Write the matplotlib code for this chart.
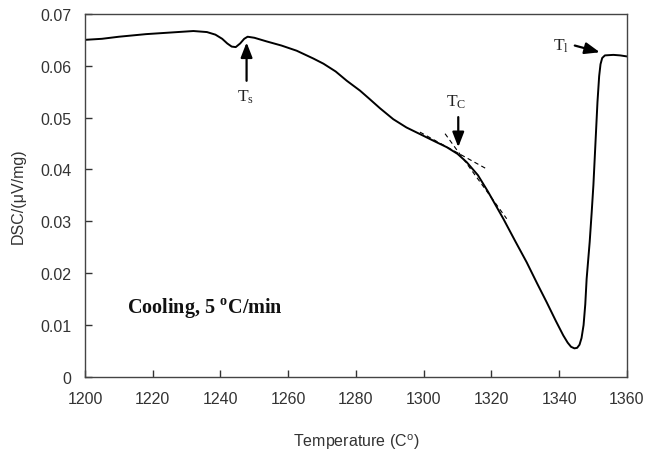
import matplotlib
matplotlib.use("Agg")
import matplotlib.pyplot as plt

plt.rcParams['font.family'] = ['Liberation Sans', 'DejaVu Sans']
plt.rcParams['mathtext.fontset'] = 'stix'

# DSC cooling curve
temp = [1200, 1205, 1210, 1218, 1225, 1232, 1236, 1238.5, 1240.5, 1242, 1243.3,
        1244.5, 1245.8, 1247, 1248, 1250, 1253.6, 1258, 1262.5, 1267.4, 1270.4,
        1274, 1277.3, 1281.2, 1284, 1287.1, 1291, 1294.9, 1299.9, 1303, 1306.8,
        1310, 1312.7, 1316, 1319, 1323.5, 1327, 1330.4, 1333.5, 1336.3, 1339,
        1341.2, 1342.5, 1343.5, 1344.5, 1345.3, 1346, 1346.6, 1347.2, 1347.7,
        1348.1, 1349, 1349.6, 1350.1, 1350.7, 1351.3, 1351.8, 1352.2, 1352.7,
        1353.5, 1356, 1358, 1360]
dsc = [0.0650, 0.0652, 0.0656, 0.0661, 0.0664, 0.0667, 0.0665, 0.0660, 0.0652,
       0.0643, 0.0637, 0.0636, 0.0643, 0.0652, 0.0656, 0.0654, 0.0647, 0.0639,
       0.0629, 0.0614, 0.0604, 0.0589, 0.0571, 0.0552, 0.0536, 0.0518, 0.0497,
       0.0481, 0.0465, 0.0455, 0.0443, 0.0430, 0.0414, 0.0389, 0.0357, 0.0305,
       0.0262, 0.0221, 0.0180, 0.0144, 0.0108, 0.0080, 0.0066, 0.0058, 0.0055,
       0.0056, 0.0062, 0.0075, 0.0100, 0.0140, 0.0189, 0.0260, 0.0318, 0.0370,
       0.0450, 0.0530, 0.0580, 0.0603, 0.0615, 0.0620, 0.0621, 0.0620, 0.0618]

# tangent lines used to find Tc
tan1_x = [1298.9, 1318.6]
tan1_y = [0.0472, 0.0401]
tan2_x = [1306.3, 1324.5]
tan2_y = [0.0469, 0.0305]

xticks = list(range(1200, 1361, 20))
yticks = [0, 0.01, 0.02, 0.03, 0.04, 0.05, 0.06, 0.07]

fig = plt.figure(figsize=(6.49, 4.52), dpi=100)
ax = fig.add_axes([0.131, 0.164, 0.835, 0.803])

ax.plot(temp, dsc, color='black', lw=1.4)
ax.plot(tan1_x, tan1_y, color='black', lw=0.8, ls=(0, (4, 3)))
ax.plot(tan2_x, tan2_y, color='black', lw=0.8, ls=(0, (4, 3)))

arrow = dict(arrowstyle='-|>,head_length=0.9,head_width=0.35', color='black', lw=1.6,
             shrinkA=0, shrinkB=0)
ax.annotate('', xy=(1247.7, 0.0645), xytext=(1247.7, 0.0571), arrowprops=arrow)
ax.annotate('', xy=(1310.2, 0.0443), xytext=(1310.2, 0.0501), arrowprops=arrow)
ax.annotate('', xy=(1352.0, 0.0626), xytext=(1344.6, 0.0639), arrowprops=arrow)

serif = ['Liberation Serif', 'DejaVu Serif']
ax.text(1247.5, 0.0542, r'T$_\mathregular{s}$', family=serif, fontsize=12.5,
        ha='center', va='center', color='#222222')
ax.text(1309.7, 0.0532, r'T$_\mathregular{C}$', family=serif, fontsize=12.5,
        ha='center', va='center', color='#222222')
ax.text(1340.5, 0.0640, r'T$_\mathregular{l}$', family=serif, fontsize=12.5,
        ha='center', va='center', color='#222222')
ax.text(1212.3, 0.0134, 'Cooling, 5 $^\\mathregular{o}$C/min', family=serif,
        fontsize=14.5, fontweight='bold', ha='left', va='center', color='#111111')

ax.set_xlim(1200, 1360)
ax.set_ylim(0, 0.07)
ax.set_xticks(xticks)
ax.set_yticks(yticks)
ax.set_yticklabels(['0', '0.01', '0.02', '0.03', '0.04', '0.05', '0.06', '0.07'])
ax.tick_params(direction='in', length=5, width=1, labelsize=11.5, colors='#333333')
ax.tick_params(axis='y', pad=10)
ax.tick_params(axis='x', pad=10)
for s in ax.spines.values():
    s.set_color('#444444')
    s.set_linewidth(1)

ax.set_xlabel('Temperature (C$^\\mathregular{o}$)', fontsize=11.5, color='#333333', labelpad=18)
ax.set_ylabel('DSC/(\u03bcV/mg)', fontsize=11.5, color='#333333', labelpad=10)

fig.savefig('out.png', dpi=100)
